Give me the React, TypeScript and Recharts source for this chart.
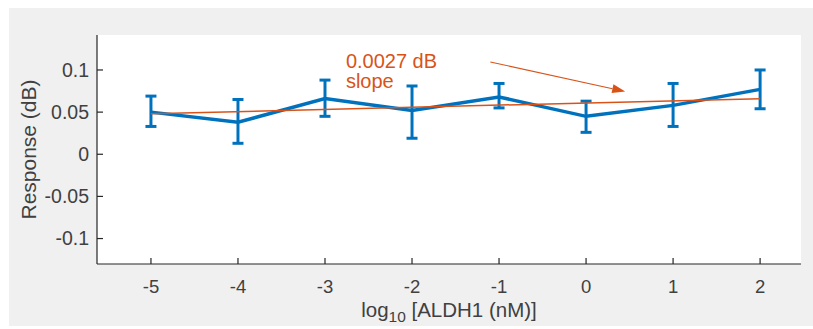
import React from 'react';
import {
  ComposedChart,
  Line,
  XAxis,
  YAxis,
  ErrorBar,
  CartesianGrid,
  ReferenceLine,
  ReferenceDot,
} from 'recharts';

// ---- data ----
const logConc = [-5, -4, -3, -2, -1, 0, 1, 2];
const meanResponse = [0.05, 0.038, 0.066, 0.052, 0.068, 0.045, 0.058, 0.077];
const upperBound = [0.069, 0.065, 0.088, 0.081, 0.084, 0.063, 0.084, 0.1];
const lowerBound = [0.033, 0.013, 0.045, 0.019, 0.055, 0.026, 0.033, 0.054];

const fitX = [-5, 2];
const fitY = [0.048, 0.066];

const xTicks = [-5, -4, -3, -2, -1, 0, 1, 2];
const yTicks = [-0.1, -0.05, 0, 0.05, 0.1];

const annotationLines = ['0.0027 dB', 'slope'];
const annotationX = -2.76;
const annotationY = 0.102;
const arrowStart = { x: -1.1, y: 0.1095 };
const arrowEnd = { x: 0.45, y: 0.0745 };

const xDomain = [-5.62, 2.47];
const yDomain = [-0.1302, 0.1415];

// ---- derived tables ----
const series = logConc.map((x, i) => ({
  x,
  mean: meanResponse[i],
  err: [meanResponse[i] - lowerBound[i], upperBound[i] - meanResponse[i]],
}));
const fitData = fitX.map((x, i) => ({ x, fit: fitY[i] }));

const BLUE = '#0072bd';
const ORANGE = '#d95319';
const AXIS = '#262626';
const TEXT = '#404040';
const FONT = '"Liberation Sans", Arial, Helvetica, sans-serif';

const ArrowShape = (props: any) => {
  const { x1, y1, x2, y2 } = props;
  if ([x1, y1, x2, y2].some((v) => typeof v !== 'number' || isNaN(v))) return null;
  const ang = Math.atan2(y2 - y1, x2 - x1);
  const len = 13;
  const half = 4.5;
  const bx = x2 - len * Math.cos(ang);
  const by = y2 - len * Math.sin(ang);
  const px = -Math.sin(ang) * half;
  const py = Math.cos(ang) * half;
  return (
    <g>
      <line x1={x1} y1={y1} x2={bx} y2={by} stroke={ORANGE} strokeWidth={1.1} />
      <polygon
        points={`${x2},${y2} ${bx + px},${by + py} ${bx - px},${by - py}`}
        fill={ORANGE}
      />
    </g>
  );
};

const XLabel = (props: any) => {
  const vb = props.viewBox || {};
  const cx = vb.x + vb.width / 2;
  const y = vb.y + 53;
  return (
    <text
      x={cx}
      y={y}
      textAnchor="middle"
      fill={TEXT}
      fontSize={20.5}
      fontFamily={FONT}
    >
      log
      <tspan fontSize={15.5} dy={5}>
        10
      </tspan>
      <tspan dy={-5}> [ALDH1 (nM)]</tspan>
    </text>
  );
};

const YLabel = (props: any) => {
  const vb = props.viewBox || {};
  const cx = vb.x + 28;
  const cy = vb.y + vb.height / 2;
  return (
    <text
      x={cx}
      y={cy}
      transform={`rotate(-90 ${cx} ${cy})`}
      textAnchor="middle"
      dominantBaseline="central"
      fill={TEXT}
      fontSize={21}
      fontFamily={FONT}
    >
      Response (dB)
    </text>
  );
};

const Annotation = (p: any) => (
  <text x={p.cx} y={p.cy} fill={ORANGE} fontSize={20} fontFamily={FONT}>
    {annotationLines.map((t, i) => (
      <tspan key={t} x={p.cx} dy={i === 0 ? 0 : 20}>
        {t}
      </tspan>
    ))}
  </text>
);

export default function App() {
  return (
    <div
      style={{
        position: 'absolute',
        left: 0,
        top: 0,
        width: 813,
        height: 329,
        background: '#ffffff',
        overflow: 'hidden',
      }}
    >
      <div
        style={{
          position: 'absolute',
          left: 9,
          top: 8,
          width: 804,
          height: 318,
          background: '#f0f0f0',
        }}
      />
      <div style={{ position: 'absolute', left: 0, top: 0 }}>
        <ComposedChart
          width={813}
          height={329}
          margin={{ top: 35, right: 12, bottom: 25, left: 0 }}
        >
          <CartesianGrid fill="#ffffff" horizontal={false} vertical={false} stroke="none" />
          <XAxis
            dataKey="x"
            type="number"
            domain={xDomain}
            ticks={xTicks}
            allowDataOverflow
            height={40}
            axisLine={{ stroke: AXIS, strokeWidth: 1.2 }}
            tickLine={{ stroke: AXIS, strokeWidth: 1.2 }}
            tickSize={-6}
            tickMargin={22}
            tick={{ fill: TEXT, fontSize: 18.5, fontFamily: FONT }}
            tickFormatter={(v: number) => String(v)}
            label={{ content: XLabel } as any}
          />
          <YAxis
            type="number"
            domain={yDomain}
            ticks={yTicks}
            allowDataOverflow
            width={97}
            axisLine={{ stroke: AXIS, strokeWidth: 1.2 }}
            tickLine={{ stroke: AXIS, strokeWidth: 1.2 }}
            tickSize={-6}
            tickMargin={14}
            tick={{ fill: TEXT, fontSize: 19.5, fontFamily: FONT }}
            tickFormatter={(v: number) => String(v)}
            label={{ content: YLabel } as any}
          />
          <Line
            data={series}
            dataKey="mean"
            stroke={BLUE}
            strokeWidth={3.5}
            dot={false}
            isAnimationActive={false}
          >
            <ErrorBar
              dataKey="err"
              direction="y"
              width={5.5}
              stroke={BLUE}
              strokeWidth={3}
              isAnimationActive={false}
            />
          </Line>
          <Line
            data={fitData}
            dataKey="fit"
            stroke={ORANGE}
            strokeWidth={1.5}
            dot={false}
            isAnimationActive={false}
          />
          <ReferenceLine
            segment={[arrowStart, arrowEnd]}
            stroke={ORANGE}
            shape={ArrowShape as any}
          />
          <ReferenceDot
            x={annotationX}
            y={annotationY}
            r={0}
            shape={Annotation as any}
          />
        </ComposedChart>
      </div>
    </div>
  );
}
